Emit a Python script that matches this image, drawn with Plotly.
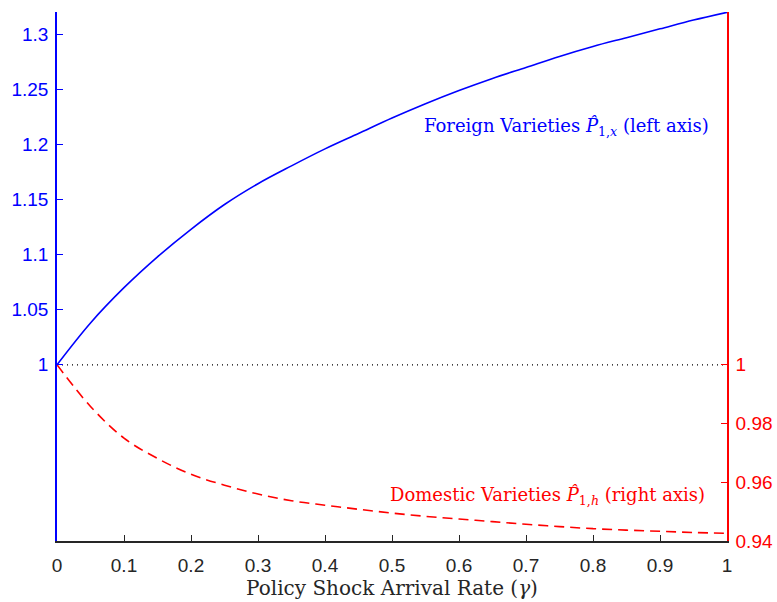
import plotly.graph_objects as go

gamma = [0.0, 0.05, 0.1, 0.15, 0.2, 0.25, 0.3, 0.35, 0.4, 0.45, 0.5,
         0.55, 0.6, 0.65, 0.7, 0.75, 0.8, 0.85, 0.9, 0.95, 1.0]
foreign = [1.0, 1.038, 1.070, 1.098, 1.123, 1.1455, 1.1644, 1.1806, 1.196, 1.210, 1.224,
           1.237, 1.249, 1.260, 1.270, 1.280, 1.289, 1.297, 1.305, 1.313, 1.320]
domestic = [1.0, 0.9858, 0.9750, 0.9681, 0.9627, 0.9590, 0.9560, 0.9537, 0.9522, 0.9508, 0.9495,
            0.9484, 0.9475, 0.9466, 0.9457, 0.9449, 0.9442, 0.9437, 0.9433, 0.9429, 0.9426]

x_ticks = [0, 0.1, 0.2, 0.3, 0.4, 0.5, 0.6, 0.7, 0.8, 0.9, 1]
x_ticktext = ["0", "0.1", "0.2", "0.3", "0.4", "0.5", "0.6", "0.7", "0.8", "0.9", "1"]
left_ticks = [1, 1.05, 1.1, 1.15, 1.2, 1.25, 1.3]
left_ticktext = ["1", "1.05", "1.1", "1.15", "1.2", "1.25", "1.3"]
right_ticks = [0.94, 0.96, 0.98, 1]
right_ticktext = ["0.94", "0.96", "0.98", "1"]

BLUE = "#0000ff"
RED = "#ff0000"
DARK = "#262626"
tickfont = dict(family="Liberation Sans, Arial", size=19)
serif = "DejaVu Serif, serif"

fig = go.Figure()
fig.add_trace(go.Scatter(x=[gamma[0], gamma[-1]], y=[1, 1], mode="lines",
                         line=dict(color="black", width=1.2, dash="1px,4px"),
                         yaxis="y", showlegend=False, hoverinfo="skip"))
fig.add_trace(go.Scatter(x=gamma, y=foreign, mode="lines", line=dict(color=BLUE, width=1.6, shape="spline"),
                         yaxis="y", showlegend=False))
fig.add_trace(go.Scatter(x=gamma, y=domestic, mode="lines",
                         line=dict(color=RED, width=1.6, dash="10px,6px", shape="spline"),
                         yaxis="y2", showlegend=False))

fig.update_layout(
    width=777, height=602,
    margin=dict(l=57, r=50, t=12, b=61, autoexpand=False),
    plot_bgcolor="white", paper_bgcolor="white",
    xaxis=dict(range=[0, 1], tickvals=x_ticks, ticktext=x_ticktext, ticks="inside", ticklen=6,
               tickcolor=DARK, tickwidth=1.2, showline=True, linecolor=DARK, linewidth=2,
               showgrid=False, zeroline=False, tickfont=dict(color=DARK, **tickfont),
               ticklabelstandoff=6, automargin=False,
               title=dict(text="Policy Shock Arrival Rate (<i>γ</i>)",
                          font=dict(family=serif, size=20, color=DARK), standoff=0)),
    yaxis=dict(range=[0.84, 1.3203], tickvals=left_ticks, ticktext=left_ticktext, ticks="inside",
               ticklen=6, tickcolor=BLUE, tickwidth=1.2, showline=True, linecolor=BLUE, linewidth=1.5,
               showgrid=False, zeroline=False, tickfont=dict(color=BLUE, **tickfont),
               ticklabelstandoff=3, automargin=False),
    yaxis2=dict(range=[0.94, 1.1201], tickvals=right_ticks, ticktext=right_ticktext, ticks="inside",
                ticklen=6, tickcolor=RED, tickwidth=1.2, showline=True, linecolor=RED, linewidth=1.5,
                showgrid=False, zeroline=False, overlaying="y", side="right",
                tickfont=dict(color=RED, **tickfont), ticklabelstandoff=3, automargin=False),
    annotations=[
        dict(x=0.976, y=1.216, xref="x", yref="y", xanchor="right", yanchor="middle",
             text="Foreign Varieties <i>P̂</i><sub>1,<i>x</i></sub> (left axis)", showarrow=False,
             font=dict(family=serif, size=18, color=BLUE)),
        dict(x=0.970, y=0.9553, xref="x", yref="y2", xanchor="right", yanchor="middle",
             text="Domestic Varieties <i>P̂</i><sub>1,<i>h</i></sub> (right axis)", showarrow=False,
             font=dict(family=serif, size=18, color=RED)),
    ],
)

fig.write_html("out.html")
